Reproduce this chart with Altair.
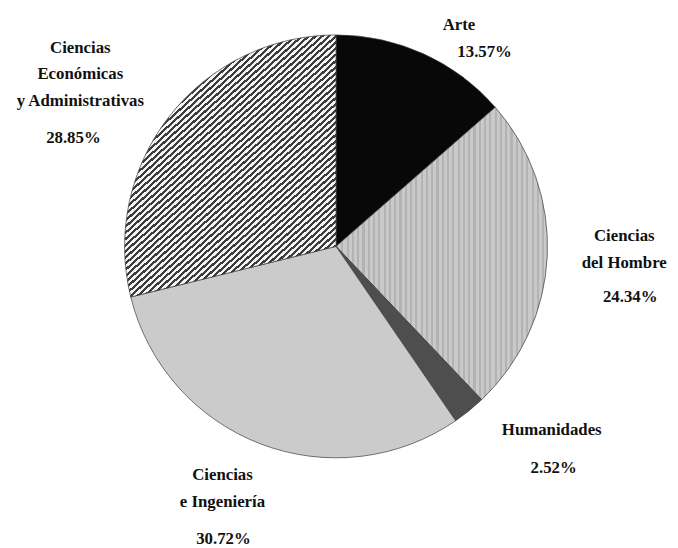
import altair as alt
import pandas as pd

# ---- data ----
categories = ["Arte", "Ciencias\ndel Hombre", "Humanidades", "Ciencias\ne Ingeniería",
              "Ciencias\nEconómicas\ny Administrativas"]
keys = ["arte", "hombre", "human", "ing", "econ"]
percentages = [13.57, 24.34, 2.52, 30.72, 28.85]

df = pd.DataFrame({"key": keys, "cat": categories, "pct": percentages,
                   "order": list(range(len(keys)))})

# ---- styles ----
def stripes(n, c1, c2, frac, x2, y2):
    stops = []
    for i in range(n):
        a, b, c = i / n, (i + frac) / n, (i + 1) / n
        stops += [alt.GradientStop(color=c1, offset=a), alt.GradientStop(color=c1, offset=b),
                  alt.GradientStop(color=c2, offset=b), alt.GradientStop(color=c2, offset=c)]
    return alt.LinearGradient(gradient="linear", stops=stops, x1=0, y1=0, x2=x2, y2=y2)

fills = {
    "arte": "#080808",
    "hombre": stripes(40, "#b3b3b3", "#c9c9c9", 0.4, 1, 0),
    "human": "#4e4e4e",
    "ing": "#cbcbcb",
    "econ": stripes(75, "#3c3c3c", "#f4f4f4", 0.48, 0.84, 1.15),
}

# label offsets (dx, dy) from the polar anchor, for name (first line) and percentage
R_LABEL = 250
name_off = {"arte": (21, 4), "hombre": (42, -22), "human": (61, -8),
            "ing": (-26, -2), "econ": (-62, -47)}
pct_off = {"arte": (47, 31), "hombre": (48, 40), "human": (63, 30),
           "ing": (-25, 63), "econ": (-69, 45)}

FONT = "Liberation Serif"
FS = 17
theta_scale = alt.Scale(domain=[0, 100])

base = alt.Chart(df).transform_window(
    cum="sum(pct)", sort=[alt.SortField("order")], frame=[None, 0]
).transform_calculate(
    start="datum.cum - datum.pct",
    mid="datum.cum - datum.pct / 2",
    lbl="format(datum.pct, '.2f') + '%'",
)

layers = []
for k in keys:
    sub = base.transform_filter(alt.datum.key == k)
    layers.append(
        sub.mark_arc(outerRadius=214, fill=fills[k], stroke="#3a3a3a", strokeWidth=0.7).encode(
            theta=alt.Theta("start:Q", scale=theta_scale),
            theta2="cum:Q",
        )
    )
for k in keys:
    sub = base.transform_filter(alt.datum.key == k)
    dx, dy = name_off[k]
    layers.append(
        sub.mark_text(radius=R_LABEL, dx=dx, dy=dy, font=FONT, fontSize=FS, fontWeight="bold",
                      lineBreak="\n", lineHeight=27, align="center", baseline="middle",
                      color="#111").encode(
            theta=alt.Theta("mid:Q", scale=theta_scale),
            text="cat:N",
        )
    )
    px, py = pct_off[k]
    layers.append(
        sub.mark_text(radius=R_LABEL, dx=px, dy=py, font=FONT, fontSize=FS, fontWeight="bold",
                      align="center", baseline="middle", color="#111").encode(
            theta=alt.Theta("mid:Q", scale=theta_scale),
            text="lbl:N",
        )
    )

chart = alt.layer(*layers).properties(
    width=664, height=476, autosize="none",
    padding={"left": 0, "top": 0, "right": 6, "bottom": 64},
    background="white",
).configure_view(stroke=None)

chart.save("out.html", embed_options={"renderer": "svg", "actions": False})
